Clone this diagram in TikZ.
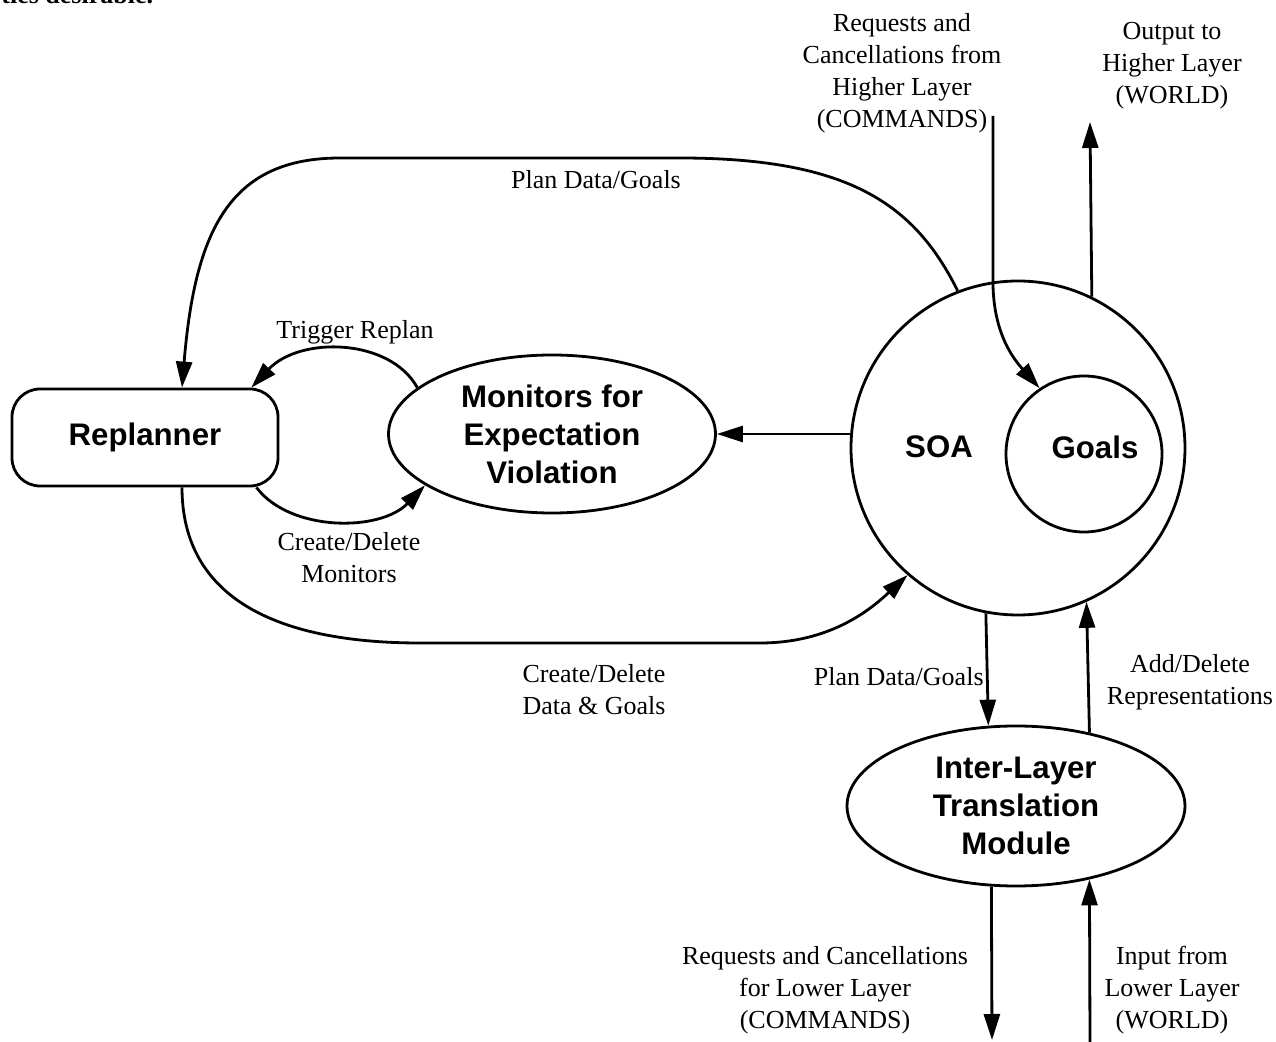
\documentclass[tikz,border=0pt]{standalone}
\usepackage{fontspec}
\setmainfont{Liberation Serif}
\newfontfamily\hvfont{Liberation Sans}
\usetikzlibrary{arrows.meta,shapes.geometric}
\begin{document}
\begin{tikzpicture}[x=0.5pt,y=-0.5pt,
  line width=1.4pt,
  arr/.style={-{Triangle[length=13pt,width=8pt]}},
  bold/.style={font=\hvfont\bfseries\fontsize{15.6}{19}\selectfont, align=center},
  lbl/.style={font=\fontsize{13}{16}\selectfont, align=center, inner sep=0pt},
  ]
\useasboundingbox (0,0) rectangle (1276,1042);

% fragment of text cut at the top edge
\begin{scope}
\clip (0,0) rectangle (220,14);
\node[inner sep=0pt, anchor=base west, font=\bfseries\fontsize{13}{16}\selectfont] (frag) at (0,4) {ties desirable.};
\end{scope}

% nodes
\node[draw, rounded corners=14pt, minimum width=133pt, minimum height=48.5pt, inner sep=0pt, bold] (rep) at (145,437.5) {Replanner};
\node[draw, ellipse, minimum width=163.5pt, minimum height=79pt, inner sep=0pt, bold] (mon) at (552,434) {Monitors for\\Expectation\\Violation};
\node[draw, circle, minimum size=167pt, inner sep=0pt] (soa) at (1018,448) {};
\node[bold] (soatxt) at (939,447) {SOA};
\node[draw, circle, minimum size=78pt, inner sep=0pt] (goals) at (1084,454) {};
\node[bold] (goalstxt) at (1095,447) {Goals};
\node[draw, ellipse, minimum width=169pt, minimum height=80pt, inner sep=0pt, bold] (ilt) at (1016,806) {Inter-Layer\\Translation\\Module};

% free ends
\coordinate (hcmd) at (993,116);
\coordinate (hout) at (1090,122);
\coordinate (lcmd) at (992,1040);
\coordinate (lin) at (1090,1042);

% connectors
\draw[arr] (soa.west |- mon.east) -- (mon.east);
\draw[arr] (soa.111) .. controls (915,205) and (850,158) .. (680,158) -- (340,158) .. controls (230,158) and (195,230) .. ([xshift=18.5pt]rep.north);
\draw[arr] ([xshift=18.5pt]rep.south) .. controls (182,600) and (280,643) .. (420,643) -- (760,643) .. controls (830,643) and (870,610) .. (soa.229);
\draw[arr] (mon.161) .. controls (390,338) and (300,336) .. ([xshift=-14pt]rep.north east);
\draw[arr] ([xshift=-11.5pt]rep.south east) .. controls (290,532) and (380,532) .. (mon.202);
\draw[arr] (hcmd) -- (993,285) .. controls (994,330) and (1010,355) .. (goals.124);
\draw[arr] (soa.64.5) -- (hout);
\draw[arr] (soa.259.6) -- (ilt.109.5);
\draw[arr] (ilt.45) -- (soa.294.8);
\draw[arr] (ilt.253) -- (lcmd);
\draw[arr] (lin) -- (ilt.315.8);

% labels
\node[lbl] (l1) at (596,180) {Plan Data/Goals};
\node[lbl] (l2) at (355,332) {Trigger Replan};
\node[lbl] (l3) at (349,558) {Create/Delete\\Monitors};
\node[lbl] (l4) at (594,690) {Create/Delete\\Data \& Goals};
\node[lbl, anchor=east] (l5) at (985,677) {Plan Data/Goals};
\node[lbl] (l6) at (1190,682) {Add/Delete\\Representations};
\node[lbl] (l7) at (902,73) {Requests and\\Cancellations from\\Higher Layer\\(COMMANDS)};
\node[lbl] (l8) at (1172,66) {Output to\\Higher Layer\\(WORLD)};
\node[lbl] (l9) at (825,990) {Requests and Cancellations\\for Lower Layer\\(COMMANDS)};
\node[lbl] (l10) at (1172,990) {Input from\\Lower Layer\\(WORLD)};
\end{tikzpicture}
\end{document}
